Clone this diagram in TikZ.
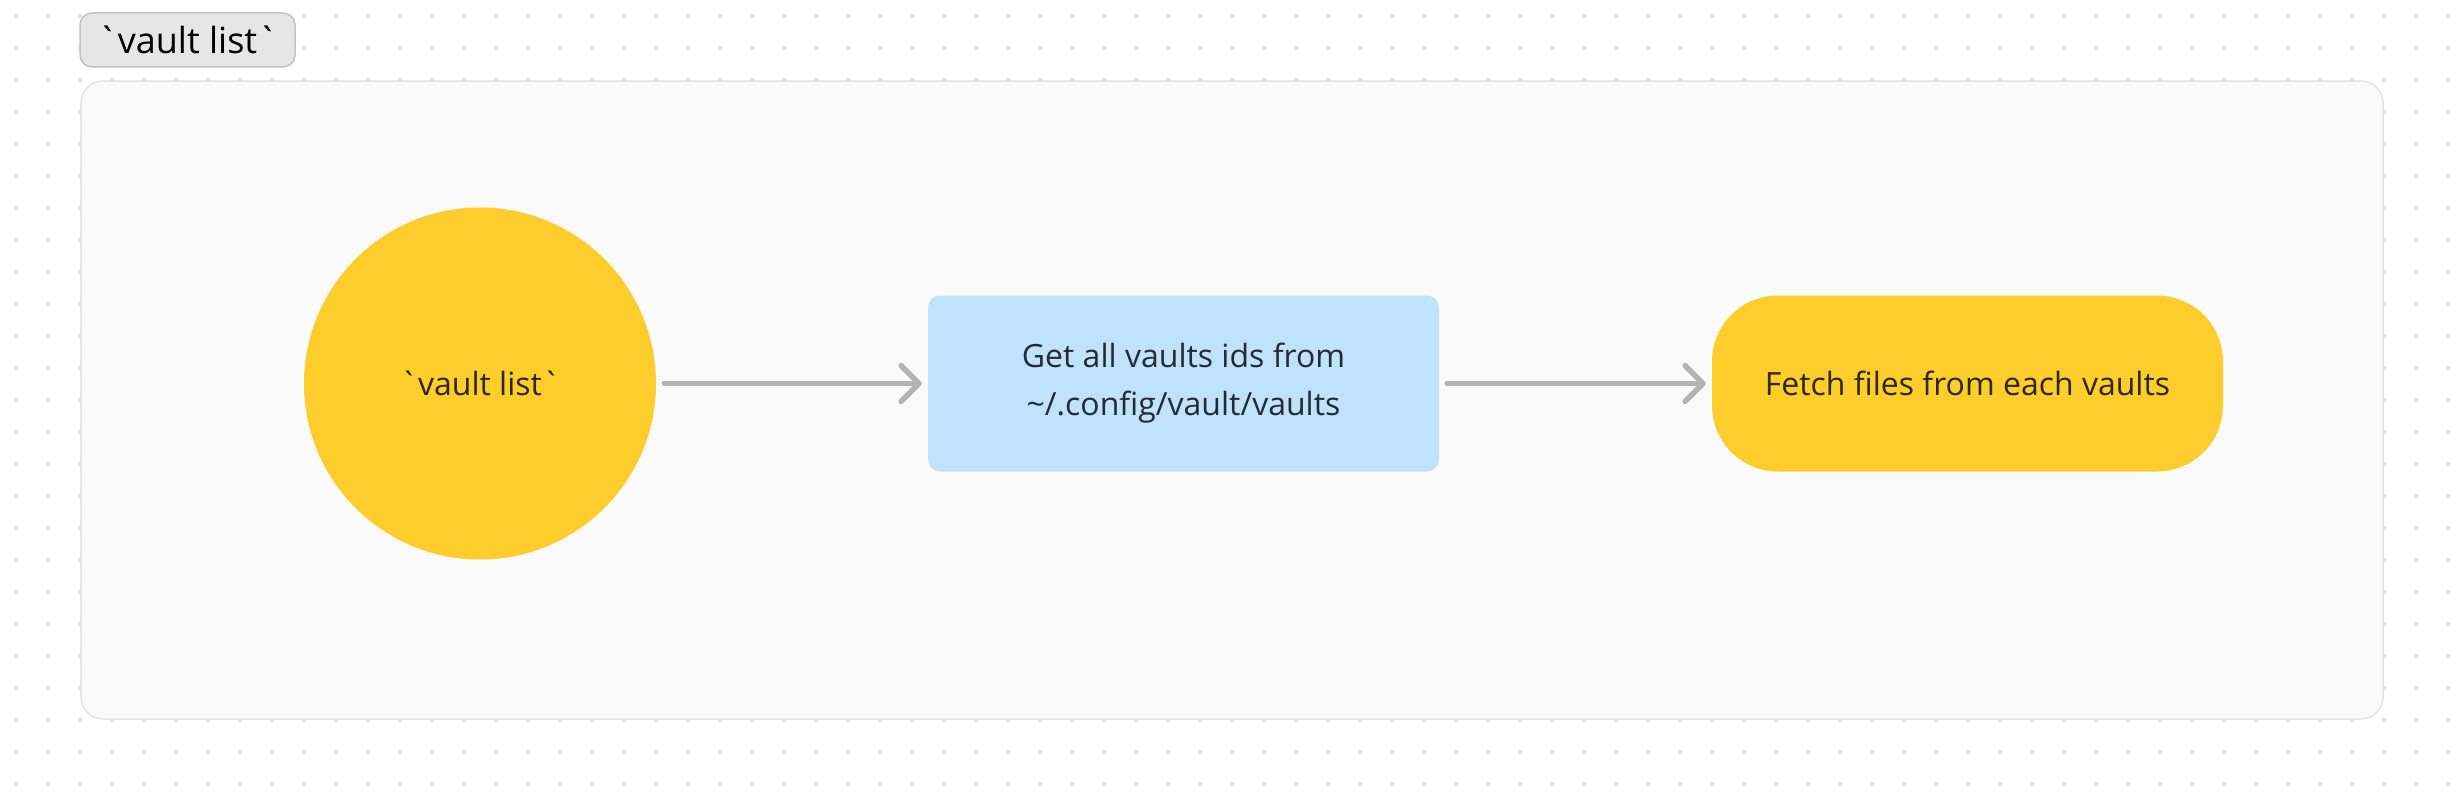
\documentclass[tikz,border=0pt]{standalone}
\usepackage{fontspec}
\newfontfamily\uifont{Open Sans}
\usetikzlibrary{arrows.meta,positioning}
\definecolor{dotgray}{HTML}{E0E0E0}
\definecolor{framefill}{HTML}{FAFAFA}
\definecolor{frameline}{HTML}{E3E3E3}
\definecolor{tagfill}{HTML}{E6E6E6}
\definecolor{tagline}{HTML}{C2C2C2}
\definecolor{vaultyellow}{HTML}{FDCD2B}
\definecolor{vaultblue}{HTML}{BFE3FD}
\definecolor{arrowgray}{HTML}{B3B3B3}
\definecolor{inkdark}{HTML}{272B30}
\definecolor{inkbrown}{HTML}{2E2700}

\begin{document}
\begin{tikzpicture}[x=1pt,y=-1pt,
  every node/.style={font=\uifont\fontsize{32}{48}\selectfont},
  groupbox/.style={draw=frameline,line width=1.5pt,fill=framefill,rounded corners=22pt,minimum width=2302pt,minimum height=638pt},
  tagbox/.style={draw=tagline,line width=1.5pt,fill=tagfill,rounded corners=12pt,minimum width=215pt,minimum height=54pt,font=\uifont\fontsize{36}{40}\selectfont,text=black},
  startcircle/.style={circle,fill=vaultyellow,minimum size=352pt,text=inkbrown},
  stepbox/.style={fill=vaultblue,rounded corners=12pt,minimum width=511pt,minimum height=176pt,align=center,text=inkdark},
  fetchbox/.style={fill=vaultyellow,rounded corners=66pt,minimum width=511pt,minimum height=176pt,text=inkbrown},
  flowarrow/.style={draw=arrowgray,line width=5.5pt,line cap=round,shorten <=8pt,shorten >=6pt,-{Straight Barb[length=18pt,width=36pt,round]}}]
\useasboundingbox (0,0) rectangle (2464,800);
\fill[white] (0,0) rectangle (2464,800);
\foreach \i in {0,...,76}
  \foreach \j in {0,...,24}
    \fill[dotgray] (16+32*\i,16+32*\j) circle (2.3pt);

\node[groupbox] (frame) at (1232,400) {};
\node[tagbox] (tag) at (187.5,40) {`vault list`};

\node[startcircle] (cmd) at (480,383.5) {`vault list`};
\node[stepbox] (ids) at (1183.5,383.5) {Get all vaults ids from\\\textasciitilde/.config/vault/vaults};
\node[fetchbox] (fetch) at (1967.5,383.5) {Fetch files from each vaults};

\draw[flowarrow] (cmd) -- (ids);
\draw[flowarrow] (ids) -- (fetch);
\end{tikzpicture}
\end{document}
